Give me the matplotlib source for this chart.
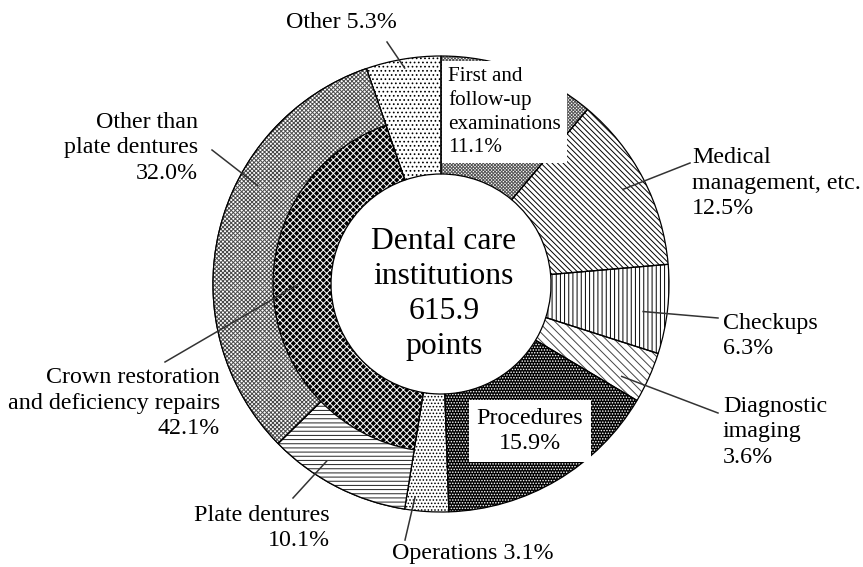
import numpy as np
import matplotlib

matplotlib.use("Agg")
import matplotlib.pyplot as plt  # noqa: E402

W, H = 863, 567
plt.rcParams.update({
    "font.family": ["Liberation Serif", "DejaVu Serif"],
    "hatch.linewidth": 0.7,
})

# ring shares (%), clockwise from 12 o'clock
segments = ["First and follow-up examinations", "Medical management, etc.", "Checkups",
            "Diagnostic imaging", "Procedures", "Operations",
            "Crown restoration and deficiency repairs", "Other"]
shares = [11.1, 12.5, 6.3, 3.6, 15.9, 3.1, 42.1, 5.3]
# crown restoration is split again in the outer ring
crown_parts = ["Plate dentures", "Other than plate dentures"]
crown_shares = [10.1, 32.0]
total_text = "Dental care\ninstitutions\n615.9\npoints"

# geometry in pixels
CX, CY = 441, H - 284
R_OUT, R_MID, R_HOLE = 228, 168, 110

# (face, hatch colour, hatch) per segment
STYLE = [
    ("white", "#555555", "x" * 10),
    ("white", "black", "\\" * 6),
    ("white", "black", "||||"),
    ("white", "#444444", "\\" * 4),
    ("black", "white", "." * 6),
    ("white", "black", "." * 5),
    ("black", "white", "x" * 5),
    ("white", "black", "...."),
]
CROWN_STYLE = [("white", "#222222", "----"), ("white", "#4a4a4a", "x" * 8)]

fig = plt.figure(figsize=(W / 100, H / 100), dpi=100)
ax = fig.add_axes([0, 0, 1, 1])

kw = dict(radius=R_OUT, center=(CX, CY), startangle=90, counterclock=False)
wedges, _ = ax.pie(shares, wedgeprops=dict(width=R_OUT - R_HOLE, linewidth=0), **kw)
for w, (fc, hc, hatch) in zip(wedges, STYLE):
    w.set_facecolor(fc); w.set_edgecolor(hc); w.set_hatch(hatch)
ax.pie(shares, wedgeprops=dict(width=R_OUT - R_HOLE, facecolor="none",
                               edgecolor="black", linewidth=0.9), **kw)

outer_vals = [sum(shares[:6])] + crown_shares + [shares[7]]
outer, _ = ax.pie(outer_vals, wedgeprops=dict(width=R_OUT - R_MID, linewidth=0), **kw)
outer_ln, _ = ax.pie(outer_vals, wedgeprops=dict(width=R_OUT - R_MID, facecolor="none",
                                                 edgecolor="black", linewidth=0.9), **kw)
for i in (0, 3):
    outer[i].set_visible(False); outer_ln[i].set_visible(False)
for w, (fc, hc, hatch) in zip(outer[1:3], CROWN_STYLE):
    w.set_facecolor(fc); w.set_edgecolor(hc); w.set_hatch(hatch)

ax.set_xlim(0, W); ax.set_ylim(0, H); ax.set_aspect("equal"); ax.axis("off")


def anchor(w, r, f):
    a = np.radians(w.theta2 - f * (w.theta2 - w.theta1))
    return CX + r * np.cos(a), CY + r * np.sin(a)


def fmt(name, v):
    return f"{name}\n{v:.1f}%"


FS, FS_SMALL, LS = 17.3, 15.2, 1.3
# label layout: wedge, anchor radius, fraction along wedge, line end, text pos, ha
lab = [
    (f"Other {shares[7]:.1f}%", wedges[7], 219, 0.5, (387, 42), (397, 23), "right"),
    ("Medical\nmanagement, etc.\n" + f"{shares[1]:.1f}%", wedges[1], 205, 0.5,
     (690, 163), (692, 183), "left"),
    (fmt(segments[2], shares[2]), wedges[2], 204, 0.56, (718, 318), (723, 336), "left"),
    ("Diagnostic\nimaging\n" + f"{shares[3]:.1f}%", wedges[3], 203, 0.72,
     (718, 413), (723, 432), "left"),
    (f"{segments[5]} {shares[5]:.1f}%", wedges[5], 215, 0.8, (405, 540), (392, 554), "left"),
    (fmt(crown_parts[0], crown_shares[0]), outer[1], 211, 0.65, (293, 498), (330, 528), "right"),
    ("Crown restoration\nand deficiency repairs\n" + f"{shares[6]:.1f}%", wedges[6], 144, 0.53,
     (165, 362), (220, 403), "right"),
    ("Other than\nplate dentures\n" + f"{crown_shares[1]:.1f}%", outer[2], 208, 0.63,
     (212, 150), (198, 148), "right"),
]
for text, w, r, f, end, pos, ha in lab:
    x0, y0 = anchor(w, r, f)
    ax.plot([x0, end[0]], [y0, H - end[1]], color="#333333", lw=1.1, zorder=5)
    ax.text(pos[0], H - pos[1], text, ha=ha, va="center", fontsize=FS,
            linespacing=LS, zorder=6)

box = dict(facecolor="white", edgecolor="none", boxstyle="square,pad=0.3")
ax.text(448, H - 112, "First and\nfollow-up\nexaminations\n" + f"{shares[0]:.1f}%",
        ha="left", va="center", fontsize=FS_SMALL, linespacing=LS, bbox=box, zorder=6)
ax.text(530, H - 431, fmt(segments[4], shares[4]), ha="center", va="center",
        fontsize=FS, linespacing=LS, bbox=dict(box, boxstyle="square,pad=0.3"), zorder=6)

ax.text(444, H - 294, total_text, ha="center", va="center", fontsize=22.8,
        linespacing=1.28, zorder=6)

fig.savefig("out.png", dpi=100)
